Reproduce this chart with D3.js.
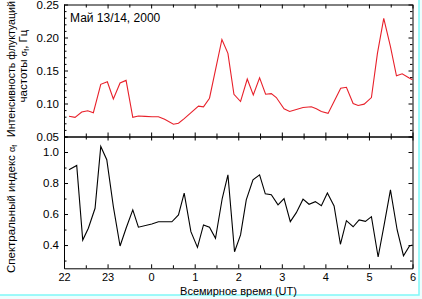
<!DOCTYPE html>
<html><head><meta charset="utf-8">
<script src="https://cdn.jsdelivr.net/npm/d3@7"></script>
<style>body{margin:0;background:#fff}svg{display:block;font-family:"Liberation Sans",Arial,sans-serif}</style>
</head><body><svg id="c" width="422" height="299"></svg>
<script>
// Hours (22..30 = 22:00 .. 06:00 UT next day)
const redTimes = [22.115,22.253,22.407,22.545,22.674,22.844,22.995,23.133,23.287,23.425,23.579,23.708,23.86,24.02,24.168,24.31,24.513,24.628,24.76,24.897,25.087,25.202,25.34,25.625,25.763,25.901,26.053,26.207,26.345,26.49,26.628,26.759,26.874,27.051,27.18,27.333,27.487,27.678,27.793,27.908,28.062,28.214,28.352,28.483,28.637,28.752,28.89,29.057,29.195,29.34,29.494,29.632,29.763,29.915,30.0];
const redValues = [0.0806,0.079,0.087,0.089,0.086,0.129,0.133,0.107,0.131,0.135,0.079,0.081,0.0805,0.080,0.080,0.076,0.0685,0.070,0.077,0.085,0.096,0.095,0.108,0.197,0.176,0.114,0.103,0.137,0.113,0.139,0.114,0.115,0.109,0.092,0.088,0.091,0.094,0.095,0.092,0.088,0.085,0.105,0.123,0.1245,0.100,0.097,0.099,0.109,0.176,0.229,0.186,0.142,0.145,0.139,0.136];
const blackTimes = [22.115,22.292,22.43,22.559,22.713,22.844,22.982,23.133,23.287,23.425,23.579,23.708,24.016,24.168,24.476,24.628,24.759,24.913,25.064,25.202,25.34,25.478,25.632,25.763,25.915,26.053,26.184,26.338,26.49,26.621,26.759,26.913,27.051,27.195,27.333,27.487,27.625,27.77,27.908,28.046,28.2,28.345,28.483,28.637,28.775,28.92,29.057,29.211,29.349,29.494,29.648,29.793,29.931,30.0];
const blackValues = [0.885,0.913,0.432,0.508,0.637,1.036,0.95,0.648,0.394,0.508,0.627,0.515,0.536,0.55,0.55,0.594,0.735,0.486,0.385,0.53,0.515,0.443,0.70,0.853,0.357,0.465,0.691,0.821,0.853,0.73,0.724,0.659,0.70,0.551,0.609,0.696,0.663,0.68,0.654,0.735,0.652,0.405,0.557,0.518,0.562,0.553,0.583,0.323,0.53,0.756,0.497,0.331,0.394,0.40];
const xTickHours = [22,23,24,25,26,27,28,29,30];
const xTickLabels = ["22","23","0","1","2","3","4","5","6"];
const topTicks = [0.05,0.10,0.15,0.20,0.25];
const bottomTicks = [0.4,0.6,0.8,1.0];
const titleText = "Май 13/14, 2000";

const svg = d3.select("#c");
const L = 64, R = 412.5, T = 4.5, M = 136.5, B = 268.3;

// frame
svg.append("rect").attr("x",0).attr("y",0).attr("width",422).attr("height",299).attr("fill","#eefefe");
svg.append("rect").attr("x",-2).attr("y",-2).attr("width",421).attr("height",297).attr("fill","#fff").attr("stroke","#7ff7f7").attr("stroke-width",1.5);

const x = d3.scaleLinear().domain([22,30]).range([L,R]);
const yTop = d3.scaleLinear().domain([0.05,0.25]).range([M,T]);
const yBot = d3.scaleLinear().domain([0.25,1.1]).range([B,M]);

const minorX = d3.range(22,30.01,0.5);
function axes(y, major, minorStep, y0, y1, fmt){
  const g = svg.append("g");
  g.append("g").attr("transform",`translate(0,${y0})`)
    .call(d3.axisTop(x).tickValues(minorX).tickSize(0).tickFormat(""))
    .call(a=>a.selectAll(".tick").append("line").attr("y2",d=>Number.isInteger(d)?-4:-3).attr("stroke","#000"));
  g.append("g").attr("transform",`translate(0,${y1})`)
    .call(d3.axisBottom(x).tickValues(minorX).tickSize(0).tickFormat(""))
    .call(a=>a.selectAll(".tick").append("line").attr("y2",d=>Number.isInteger(d)?4:3).attr("stroke","#000"));
  const dom = y.domain();
  const minors = d3.range(Math.ceil(dom[0]/minorStep-1e-6)*minorStep, dom[1]+1e-9, minorStep).map(v=>+v.toFixed(4));
  const isMajor = v => major.some(m=>Math.abs(m-v)<1e-6);
  g.append("g").attr("transform",`translate(${L},0)`)
    .call(d3.axisRight(y).tickValues(minors).tickSize(0).tickFormat(""))
    .call(a=>a.selectAll(".tick").append("line").attr("x2",d=>isMajor(d)?4:2.5).attr("stroke","#000"));
  g.append("g").attr("transform",`translate(${R},0)`)
    .call(d3.axisLeft(y).tickValues(minors).tickSize(0).tickFormat(""))
    .call(a=>a.selectAll(".tick").append("line").attr("x2",d=>isMajor(d)?-4:-2.5).attr("stroke","#000"));
  g.selectAll(".domain").attr("stroke","#000");
  g.append("g").attr("transform",`translate(${L},0)`)
    .call(d3.axisLeft(y).tickValues(major).tickSize(0).tickPadding(5).tickFormat(fmt))
    .call(a=>{a.select(".domain").remove();a.selectAll("text").attr("font-size",11.5).attr("fill","#000").attr("font-family","Liberation Sans, Arial, sans-serif");});
}
axes(yTop, topTicks, 0.01, M, T, d3.format(".2f"));
axes(yBot, bottomTicks, 0.1, B, M, d3.format(".1f"));

svg.append("g").attr("transform",`translate(0,${B})`)
  .call(d3.axisBottom(x).tickValues(xTickHours).tickSize(0).tickPadding(5).tickFormat((d,i)=>xTickLabels[i]))
  .call(a=>{a.select(".domain").remove();a.selectAll("text").attr("font-size",11).attr("fill","#000").attr("font-family","Liberation Sans, Arial, sans-serif");});

const redData = redTimes.map((t,i)=>[t,redValues[i]]);
const blackData = blackTimes.map((t,i)=>[t,blackValues[i]]);
svg.append("path").datum(redData).attr("fill","none").attr("stroke","#e8202a").attr("stroke-width",1.1)
  .attr("d",d3.line().x(d=>x(d[0])).y(d=>yTop(d[1])));
svg.append("path").datum(blackData).attr("fill","none").attr("stroke","#000").attr("stroke-width",1.1)
  .attr("d",d3.line().x(d=>x(d[0])).y(d=>yBot(d[1])));

svg.append("text").attr("x",70).attr("y",22).attr("font-size",12).text(titleText);

const yl1 = svg.append("text").attr("transform","translate(15,69) rotate(-90)").attr("text-anchor","middle").attr("font-size",10.6);
yl1.text("Интенсивность флуктуаций");
const yl2 = svg.append("text").attr("transform","translate(27,66) rotate(-90)").attr("text-anchor","middle").attr("font-size",11.5);
yl2.append("tspan").text("частоты ");
yl2.append("tspan").attr("font-size",9).text("σ");
yl2.append("tspan").attr("font-size",6.5).attr("dy",2).text("f");
yl2.append("tspan").attr("dy",-2).text(", Гц");
const yl3 = svg.append("text").attr("transform","translate(15,209) rotate(-90)").attr("text-anchor","middle").attr("font-size",11.5);
yl3.append("tspan").text("Спектральный индекс ");
yl3.append("tspan").attr("font-size",9).text("α");
yl3.append("tspan").attr("font-size",6.5).attr("dy",2).text("f");
svg.append("text").attr("x",238.5).attr("y",295).attr("text-anchor","middle").attr("font-size",11).text("Всемирное время (UT)");
</script></body></html>
